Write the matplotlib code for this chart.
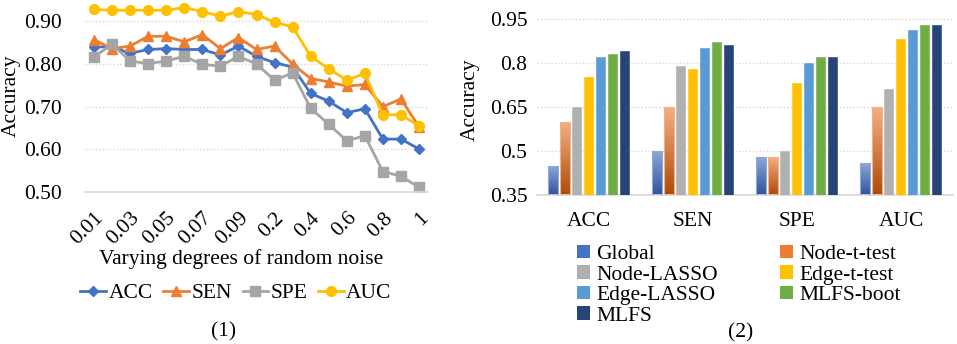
import matplotlib.pyplot as plt
import numpy as np
from matplotlib.colors import LinearSegmentedColormap
from matplotlib.patches import Patch

plt.rcParams['font.family'] = ['Liberation Serif', 'DejaVu Serif']
plt.rcParams['font.size'] = 15.5

# ---- data: panel (1) ----
noise = ['0.01', '0.02', '0.03', '0.04', '0.05', '0.06', '0.07', '0.08', '0.09', '0.1',
         '0.2', '0.3', '0.4', '0.5', '0.6', '0.7', '0.8', '0.9', '1']
acc = [0.840, 0.840, 0.825, 0.834, 0.836, 0.834, 0.834, 0.821, 0.842, 0.818,
       0.803, 0.793, 0.731, 0.713, 0.686, 0.695, 0.624, 0.624, 0.601]
sen = [0.857, 0.836, 0.842, 0.865, 0.865, 0.852, 0.869, 0.836, 0.862, 0.834,
       0.842, 0.800, 0.766, 0.758, 0.748, 0.752, 0.700, 0.718, 0.653]
spe = [0.817, 0.846, 0.807, 0.801, 0.807, 0.818, 0.799, 0.795, 0.818, 0.800,
       0.762, 0.779, 0.696, 0.659, 0.620, 0.632, 0.548, 0.537, 0.511]
auc = [0.928, 0.926, 0.926, 0.926, 0.926, 0.932, 0.923, 0.912, 0.923, 0.916,
       0.898, 0.887, 0.818, 0.789, 0.762, 0.778, 0.681, 0.681, 0.655]

# ---- data: panel (2) ----
metrics = ['ACC', 'SEN', 'SPE', 'AUC']
methods = ['Global', 'Node-t-test', 'Node-LASSO', 'Edge-t-test', 'Edge-LASSO', 'MLFS-boot', 'MLFS']
scores = {
    'Global':      [0.45, 0.50, 0.48, 0.46],
    'Node-t-test': [0.60, 0.65, 0.48, 0.65],
    'Node-LASSO':  [0.65, 0.79, 0.50, 0.71],
    'Edge-t-test': [0.75, 0.78, 0.73, 0.88],
    'Edge-LASSO':  [0.82, 0.85, 0.80, 0.91],
    'MLFS-boot':   [0.83, 0.87, 0.82, 0.93],
    'MLFS':        [0.84, 0.86, 0.82, 0.93],
}
bar_colors = ['#4472C4', '#ED7D31', '#B0B0B0', '#FFC000', '#5B9BD5', '#70AD47', '#264478']
# gradient (top, bottom) for the first two series
gradients = {'Global': ('#8EA9DB', '#2F5597'), 'Node-t-test': ('#F4B183', '#B04A0A')}

fig = plt.figure(figsize=(9.57, 3.44), dpi=100)

def style_axes(ax):
    for s in ['top', 'right', 'left']:
        ax.spines[s].set_visible(False)
    ax.spines['bottom'].set_color('#D9D9D9')
    ax.spines['bottom'].set_linewidth(1.2)
    ax.grid(axis='y', color='#D9D9D9', linestyle=(0, (1, 1.5)), linewidth=1)
    ax.set_axisbelow(True)
    ax.tick_params(length=0)

# ---- panel (1): line chart ----
ax1 = fig.add_axes([85 / 957, 1 - 192 / 344, 343 / 957, 192 / 344])
x = np.arange(len(noise))
ax1.plot(x, acc, color='#4472C4', marker='D', markersize=5.5, lw=2, label='ACC')
ax1.plot(x, sen, color='#ED7D31', marker='^', markersize=7, lw=2, label='SEN')
ax1.plot(x, spe, color='#A5A5A5', marker='s', markersize=6.5, lw=2, label='SPE')
ax1.plot(x, auc, color='#FFC000', marker='o', markersize=7, lw=2, label='AUC')
ax1.set_xlim(-0.5, len(noise) - 0.5)
ax1.set_ylim(0.5, 0.95)
ax1.set_yticks([0.5, 0.6, 0.7, 0.8, 0.9])
ax1.set_yticklabels(['%.2f' % v for v in [0.5, 0.6, 0.7, 0.8, 0.9]])
ax1.set_xticks(x[::2])
ax1.set_xticklabels(noise[::2], rotation=45, ha='right', va='top', rotation_mode='anchor')
ax1.tick_params(axis='x', pad=12)
ax1.tick_params(axis='y', pad=16.5)
style_axes(ax1)
ax1.set_ylabel('Accuracy')
ax1.yaxis.set_label_coords((21 - 85) / 343, 0.5)
ax1.set_xlabel('Varying degrees of random noise')
ax1.xaxis.set_label_coords((241 - 85) / 343, -(249 - 192) / 192)
ax1.legend(loc='center', bbox_to_anchor=(236 / 957, 1 - 293 / 344),
           bbox_transform=fig.transFigure, ncol=4, frameon=False,
           handlelength=1.2, handletextpad=0.1, columnspacing=0.5, borderpad=0)
fig.text(224 / 957, 1 - 332 / 344, '(1)', ha='center', va='center')

# ---- panel (2): grouped bars ----
ax2 = fig.add_axes([537 / 957, 1 - 195 / 344, 416 / 957, 191 / 344])
g = np.arange(len(metrics))
pitch, width = 0.115, 0.097
handles = []
for i, m in enumerate(methods):
    off = (i - (len(methods) - 1) / 2) * pitch
    if m in gradients:
        top, bot = gradients[m]
        bars = ax2.bar(g + off, scores[m], width, bottom=0, color='none',
                       edgecolor=top, linewidth=0.8, zorder=3)
        cmap = LinearSegmentedColormap.from_list(m, [bot, top])
        for b in bars:
            x0, w, h = b.get_x(), b.get_width(), b.get_height()
            im = ax2.imshow(np.linspace(0, 1, 64).reshape(-1, 1), cmap=cmap,
                            extent=[x0, x0 + w, 0.35, h], origin='lower',
                            aspect='auto', zorder=2)
            im.set_clip_path(b)
    else:
        ax2.bar(g + off, scores[m], width, color=bar_colors[i],
                edgecolor='white', linewidth=0.3, zorder=3)
    handles.append(Patch(facecolor=bar_colors[i], label=m))
ax2.set_xlim(-0.5, len(metrics) - 0.5)
ax2.set_ylim(0.35, 1.0)
ax2.set_yticks([0.35, 0.5, 0.65, 0.8, 0.95])
ax2.set_yticklabels(['0.35', '0.5', '0.65', '0.8', '0.95'])
ax2.set_xticks(g)
ax2.set_xticklabels(metrics)
ax2.tick_params(axis='x', pad=12)
ax2.tick_params(axis='y', pad=7)
style_axes(ax2)
ax2.set_ylabel('Accuracy')
ax2.yaxis.set_label_coords((480 - 537) / 416, 0.5)
order = [0, 2, 4, 6, 1, 3, 5]
ax2.legend([handles[k] for k in order], [methods[k] for k in order],
           loc='upper left', bbox_to_anchor=(566 / 957, 1 - 234 / 344),
           bbox_transform=fig.transFigure, ncol=2, frameon=False,
           handlelength=0.6, handleheight=0.6, handletextpad=0.3,
           labelspacing=0.05, columnspacing=2.9, borderpad=0)
fig.text(741 / 957, 1 - 333 / 344, '(2)', ha='center', va='center')

fig.savefig('out.png', dpi=100)
